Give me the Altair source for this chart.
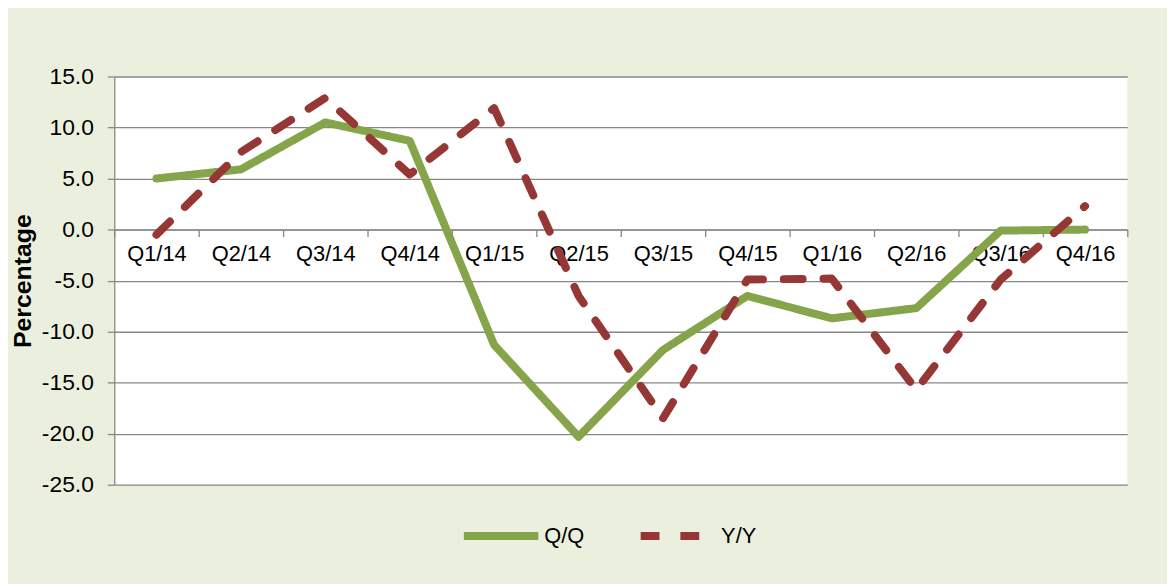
import altair as alt
import pandas as pd

quarters = ["Q1/14", "Q2/14", "Q3/14", "Q4/14", "Q1/15", "Q2/15",
            "Q3/15", "Q4/15", "Q1/16", "Q2/16", "Q3/16", "Q4/16"]
qq = [5.0, 5.9, 10.5, 8.7, -11.3, -20.3, -11.8, -6.5, -8.7, -7.7, -0.1, 0.0]
yy = [-0.5, 7.6, 12.9, 5.4, 11.9, -6.5, -18.5, -4.9, -4.8, -15.7, -4.9, 2.3]
series_names = ["Q/Q", "Y/Y"]
y_ticks = [15, 10, 5, 0, -5, -10, -15, -20, -25]

rows = []
for name, vals in zip(series_names, [qq, yy]):
    for q, v in zip(quarters, vals):
        rows.append({"quarter": q, "value": v, "series": name})
df = pd.DataFrame(rows)

GREEN = "#86A44A"
RED = "#953735"
GRID = "#878787"
FONT = "Liberation Sans"

W, H = 1020, 411

chart = alt.Chart(df).mark_line(
    strokeWidth=8, strokeCap="round", strokeJoin="round"
).encode(
    x=alt.X(
        "quarter:N", sort=quarters, title=None, bandPosition=0.5,
        scale=alt.Scale(type="band", paddingInner=0, paddingOuter=0),
        axis=alt.Axis(
            orient="bottom", offset=-(H * 25 / 40), tickBand="extent",
            tickSize=7, tickColor=GRID, tickWidth=1.3,
            domainColor=GRID, domainWidth=1.3,
            labelPadding=7, labelFont=FONT, labelFontSize=22,
            labelColor="black", labelAngle=0, grid=False,
        ),
    ),
    y=alt.Y(
        "value:Q",
        scale=alt.Scale(domain=[-25, 15], nice=False, zero=False),
        axis=alt.Axis(
            values=y_ticks,
            labelExpr="(datum.value < 0 ? '-' : '') + format(abs(datum.value), '.1f')",
            title="Percentage", titleFont=FONT, titleFontSize=25,
            titleFontWeight="bold", titleColor="black", titleAngle=-90,
            titleX=-92, titleY=H / 2, titleBaseline="middle", titleAlign="center",
            tickSize=7, tickColor=GRID, tickWidth=1.3,
            domainColor=GRID, domainWidth=1.3,
            labelPadding=14, labelFont=FONT, labelFontSize=23, labelColor="black",
            grid=True, gridColor=GRID, gridWidth=1.3,
        ),
    ),
    color=alt.Color(
        "series:N",
        scale=alt.Scale(domain=series_names, range=[GREEN, RED]),
        legend=alt.Legend(
            title=None, orient="none", direction="horizontal",
            legendX=348, legendY=421, symbolType="stroke",
            symbolSize=5625, symbolStrokeWidth=8,
            labelFont=FONT, labelFontSize=22, labelColor="black",
            labelOffset=2, columnPadding=40, padding=0,
        ),
    ),
    strokeDash=alt.StrokeDash(
        "series:N",
        scale=alt.Scale(domain=series_names, range=[[1, 0], [19, 21]]),
        legend=None,
    ),
).properties(
    width=W, height=H,
    autosize=alt.AutoSizeParams(type="none"),
    padding={"left": 107, "top": 67, "right": 40, "bottom": 98},
    background="#EBF0DE",
).configure_view(
    fill="white", stroke=None,
)

chart.save("out.html", embed_options={"renderer": "svg", "actions": False})
